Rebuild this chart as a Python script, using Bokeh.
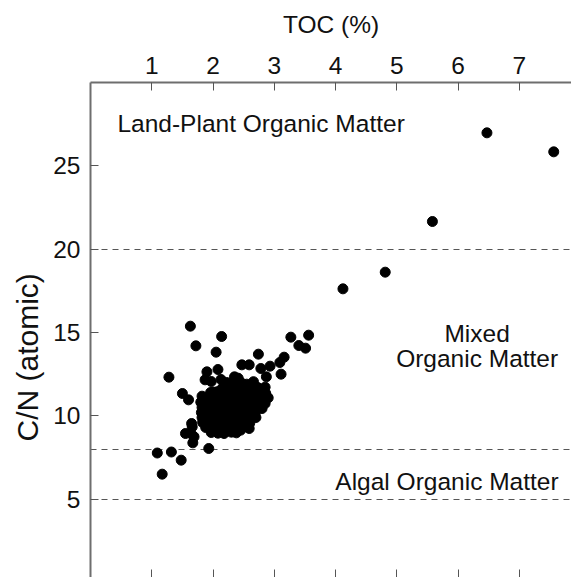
from bokeh.plotting import figure
from bokeh.models import Range1d, LinearAxis, FixedTicker, Label, Title
from bokeh.embed import file_html
from bokeh.resources import INLINE

# ---- data ----
toc = [
    # high C/N samples
    4.12, 4.81, 5.58, 6.47, 7.56,
    # scattered upper points
    1.63, 2.14, 1.72, 2.05, 2.74, 1.28, 3.27, 3.56, 3.40, 3.51, 3.16, 3.09,
    2.93, 2.78, 3.11, 2.87, 2.85, 2.47, 2.59, 1.90, 2.08, 1.87, 1.97, 2.13,
    2.35, 2.41, 1.50, 1.60, 1.82, 1.80, 2.00, 2.10, 2.84,
    # scattered lower points
    1.65, 1.66, 1.55, 1.64, 1.69, 1.67, 1.93, 1.09, 1.32, 1.48, 1.17,
    2.18, 2.45, 2.59,
    # dense cluster
    2.22, 2.32, 2.45, 2.55, 2.66,
    2.15, 2.26, 2.38, 2.50, 2.62, 2.73, 2.82,
    1.96, 2.07, 2.18, 2.29, 2.41, 2.52, 2.63, 2.74, 2.86,
    1.90, 2.02, 2.13, 2.24, 2.35, 2.46, 2.57, 2.68, 2.79, 2.90,
    1.86, 1.97, 2.08, 2.19, 2.30, 2.41, 2.52, 2.63, 2.74, 2.85,
    1.82, 1.93, 2.04, 2.15, 2.26, 2.37, 2.48, 2.59, 2.70, 2.80,
    1.81, 1.92, 2.03, 2.14, 2.25, 2.36, 2.47, 2.58, 2.69,
    1.82, 1.93, 2.04, 2.15, 2.26, 2.37, 2.48, 2.60, 2.70,
    1.83, 1.94, 2.05, 2.16, 2.27, 2.38, 2.49, 2.60,
    1.88, 1.99, 2.10, 2.21, 2.32, 2.43,
    1.97, 2.08, 2.30, 2.38,
]
cn = [
    17.62, 18.62, 21.66, 26.98, 25.84,
    15.38, 14.76, 14.20, 13.82, 13.70, 12.32, 14.72, 14.84, 14.22, 14.06, 13.52, 13.20,
    12.98, 12.84, 12.50, 12.34, 11.72, 13.06, 13.06, 12.64, 12.78, 12.16, 12.06, 12.18,
    12.34, 12.26, 11.34, 10.96, 11.18, 10.82, 11.43, 11.34, 11.00,
    9.54, 9.34, 8.94, 8.94, 8.74, 8.38, 8.04, 7.77, 7.83, 7.34, 6.50,
    8.94, 9.14, 9.24,
    12.00, 11.95, 12.02, 11.90, 12.05,
    11.65, 11.72, 11.68, 11.75, 11.66, 11.70, 11.62,
    11.40, 11.45, 11.38, 11.42, 11.36, 11.44, 11.38, 11.40, 11.35,
    11.10, 11.05, 11.12, 11.08, 11.14, 11.06, 11.10, 11.04, 11.12, 11.08,
    10.80, 10.76, 10.84, 10.78, 10.82, 10.75, 10.83, 10.77, 10.80, 10.74,
    10.50, 10.46, 10.54, 10.48, 10.52, 10.45, 10.53, 10.47, 10.51, 10.44,
    10.20, 10.16, 10.24, 10.18, 10.22, 10.15, 10.23, 10.17, 10.20,
    9.90, 9.86, 9.94, 9.88, 9.92, 9.85, 9.93, 9.87, 9.90,
    9.60, 9.56, 9.64, 9.58, 9.62, 9.55, 9.63, 9.57,
    9.30, 9.26, 9.34, 9.28, 9.32, 9.25,
    9.00, 8.96, 9.02, 8.98,
]
thresholds = [20, 8, 5]
x_ticks = [1, 2, 3, 4, 5, 6, 7]
y_ticks = [5, 10, 15, 20, 25]

FONT = "Liberation Sans"
FS = "24.5px"
AXIS_COLOR = "#6e6e6e"
TICK_COLOR = "#555555"

p = figure(width=571, height=577, output_backend="svg", toolbar_location=None,
           x_range=Range1d(0, 7.85), y_range=Range1d(0.3, 30),
           x_axis_location=None, y_axis_location=None,
           min_border_left=90, min_border_top=82, min_border_right=0,
           min_border_bottom=0)
p.outline_line_color = None
p.background_fill_color = "white"
p.border_fill_color = "white"
for g in list(p.xgrid) + list(p.ygrid):
    g.visible = False
    g.grid_line_color = None


def style_axis(ax):
    ax.major_tick_in = 8
    ax.major_tick_out = 0
    ax.minor_tick_line_color = None
    ax.axis_line_color = AXIS_COLOR
    ax.axis_line_width = 2
    ax.major_tick_line_color = TICK_COLOR
    ax.major_tick_line_width = 1
    ax.major_label_text_font = FONT
    ax.major_label_text_font_size = FS
    ax.major_label_text_color = "#111111"
    ax.axis_label_text_font = FONT
    ax.axis_label_text_font_size = FS
    ax.axis_label_text_font_style = "normal"
    ax.axis_label_text_color = "#111111"


top = LinearAxis(ticker=FixedTicker(ticks=x_ticks), axis_label="TOC (%)")
style_axis(top)
top.major_label_standoff = 9
top.axis_label_standoff = 16
p.add_layout(top, "above")

left = LinearAxis(ticker=FixedTicker(ticks=y_ticks))
style_axis(left)
left.major_label_standoff = 10
p.add_layout(left, "left")

bottom = LinearAxis(ticker=FixedTicker(ticks=x_ticks))
style_axis(bottom)
bottom.axis_line_color = None
bottom.major_label_overrides = {t: "" for t in x_ticks}
bottom.major_label_standoff = 0
p.add_layout(bottom, "below")

# y-axis title, placed as a side title so it can sit a little below centre
ytitle = Title(text="C/N (atomic)", align="left", offset=136, standoff=13,
               text_font=FONT, text_font_size="30px", text_font_style="normal",
               text_color="#111111")
p.add_layout(ytitle, "left")

# threshold lines
p.hspan(y=thresholds, line_color="#555555", line_width=1, line_dash="6 5")

# samples
p.scatter(toc, cn, size=10, marker="circle", fill_color="black", line_color="black")


# region annotations
def add_text(x, y, txt, align):
    p.add_layout(Label(x=x, y=y, text=txt, text_align=align,
                       text_baseline="alphabetic", text_font=FONT,
                       text_font_size=FS, text_color="#111111"))


add_text(0.44, 27.54, "Land-Plant Organic Matter", "left")
add_text(6.31, 14.94, "Mixed", "center")
add_text(6.31, 13.44, "Organic Matter", "center")
add_text(7.64, 6.06, "Algal Organic Matter", "right")

open("out.html", "w").write(file_html(p, INLINE))
